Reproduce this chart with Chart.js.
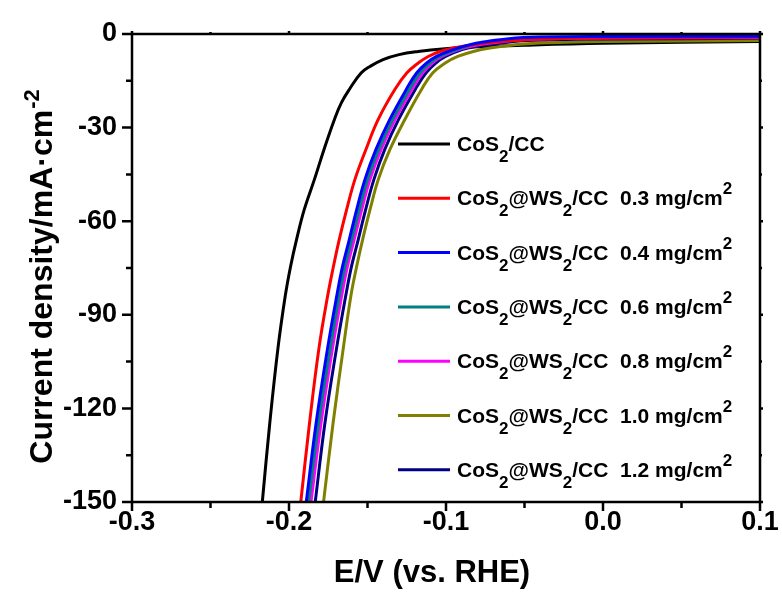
<!DOCTYPE html>
<html>
<head>
<meta charset="utf-8">
<title>LSV curves</title>
<script src="https://cdn.jsdelivr.net/npm/chart.js@4.4.0/dist/chart.umd.min.js"></script>
<style>
  html, body { margin: 0; padding: 0; background: #fff; }
  #wrap { width: 782px; height: 601px; }
</style>
</head>
<body>
<div id="wrap"><canvas id="lsvChart" width="782" height="601"></canvas></div>
<script>
// Potential (V vs. RHE) and current density (mA/cm2)
const potCoS2 = [-0.2170, -0.2123, -0.2071, -0.2024, -0.1990, -0.1952, -0.1903, -0.1838, -0.1777, -0.1710, -0.1666, -0.1615, -0.1541, -0.1484, -0.1401, -0.1299, -0.1178, -0.1006, -0.0847, -0.05, 0.0, 0.1];
const curCoS2 = [-150, -125, -101, -84, -74.5, -65.9, -56.3, -46.6, -37, -27.3, -22, -17.7, -12.5, -10.4, -8.2, -6.6, -5.6, -4.7, -4.2, -3.6, -3.0, -2.4];

const pot03 = [-0.1925, -0.187, -0.181, -0.1754, -0.1717, -0.168, -0.1633, -0.158, -0.151, -0.1431, -0.1325, -0.125, -0.1177, -0.1113, -0.1038, -0.0953, -0.08, -0.06, -0.03, 0.02, 0.1];
const cur03 = [-150, -125, -101, -84, -74.5, -65.9, -56.3, -46.6, -37, -27.3, -17.7, -12.5, -9.3, -7.2, -5.6, -4.5, -3.2, -2.2, -1.5, -1.2, -1.0];

const pot04 = [-0.189, -0.1828, -0.1755, -0.1696, -0.1659, -0.1616, -0.1569, -0.1516, -0.1446, -0.1357, -0.1252, -0.1187, -0.1123, -0.106, -0.0953, -0.0847, -0.075, -0.06, -0.04, 0.0, 0.1];
const cur04 = [-150, -125, -101, -84, -74.5, -65.9, -56.3, -46.6, -37, -27.3, -17.7, -12.5, -9.3, -7.2, -5.0, -3.4, -2.5, -1.5, -1.0, -0.8, -0.7];

const pot06 = [-0.1875, -0.1812, -0.1738, -0.168, -0.1643, -0.160, -0.1552, -0.1499, -0.1428, -0.1338, -0.1232, -0.1166, -0.1102, -0.104, -0.0933, -0.082, -0.072, -0.056, -0.035, 0.0, 0.1];
const cur06 = [-150, -125, -101, -84, -74.5, -65.9, -56.3, -46.6, -37, -27.3, -17.7, -12.5, -9.3, -7.2, -5.0, -3.4, -2.6, -1.7, -1.3, -1.1, -1.0];

const pot08 = [-0.186, -0.1797, -0.1724, -0.1665, -0.1628, -0.1585, -0.1537, -0.1484, -0.1413, -0.1323, -0.1216, -0.115, -0.1087, -0.1025, -0.092, -0.081, -0.07, -0.054, -0.033, 0.0, 0.1];
const cur08 = [-150, -125, -101, -84, -74.5, -65.9, -56.3, -46.6, -37, -27.3, -17.7, -12.5, -9.3, -7.2, -5.0, -3.6, -2.8, -1.9, -1.5, -1.3, -1.2];

const pot10 = [-0.178, -0.172, -0.1655, -0.1606, -0.1569, -0.1531, -0.1484, -0.1431, -0.1357, -0.1261, -0.1155, -0.1085, -0.1005, -0.0925, -0.0826, -0.072, -0.055, -0.035, 0.0, 0.1];
const cur10 = [-150, -125, -101, -84, -74.5, -65.9, -56.3, -46.6, -37, -27.3, -17.7, -12.5, -9.3, -7.2, -5.6, -4.5, -3.4, -2.8, -2.4, -2.1];

const pot12 = [-0.1833, -0.1772, -0.1698, -0.1639, -0.1602, -0.1559, -0.1512, -0.1459, -0.139, -0.1301, -0.1195, -0.1128, -0.1065, -0.1003, -0.0898, -0.08, -0.068, -0.052, -0.03, 0.0, 0.1];
const cur12 = [-150, -125, -101, -84, -74.5, -65.9, -56.3, -46.6, -37, -27.3, -17.7, -12.5, -9.3, -7.2, -5.0, -3.9, -3.1, -2.2, -1.8, -1.6, -1.4];

// legend labels: "_x" = subscript, "^x" = superscript
const seriesLabels = [
  "CoS_2/CC",
  "CoS_2@WS_2/CC  0.3 mg/cm^2",
  "CoS_2@WS_2/CC  0.4 mg/cm^2",
  "CoS_2@WS_2/CC  0.6 mg/cm^2",
  "CoS_2@WS_2/CC  0.8 mg/cm^2",
  "CoS_2@WS_2/CC  1.0 mg/cm^2",
  "CoS_2@WS_2/CC  1.2 mg/cm^2",
];
const seriesColors = ["#000000", "#ff0000", "#0000ff", "#008080", "#ff00ff", "#808000", "#000080"];
// drawing order (lower = on top)
const seriesOrder = [6, 1, 0, 2, 3, 5, 4];

const xMin = -0.3, xMax = 0.1, xStep = 0.1;
const yMin = -150, yMax = 0, yStep = 30;

const FONT = "'Liberation Sans', Arial, Helvetica, sans-serif";

function toPoints(pot, cur) {
  return pot.map((e, i) => ({ x: e, y: cur[i] }));
}

const seriesData = [
  toPoints(potCoS2, curCoS2),
  toPoints(pot03, cur03),
  toPoints(pot04, cur04),
  toPoints(pot06, cur06),
  toPoints(pot08, cur08),
  toPoints(pot10, cur10),
  toPoints(pot12, cur12),
];

// Frame with outward major/minor ticks on all four sides
const framePlugin = {
  id: "frame",
  afterDatasetsDraw(chart) {
    const { ctx, chartArea: a, scales } = chart;
    const xs = scales.x, ys = scales.y;
    ctx.save();
    ctx.strokeStyle = "#000";
    ctx.lineWidth = 2.5;
    ctx.strokeRect(a.left, a.top, a.right - a.left, a.bottom - a.top);

    const xv = xs.ticks.map((t) => t.value);
    const yv = ys.ticks.map((t) => t.value);
    ctx.beginPath();
    xv.forEach((v, i) => {
      const px = xs.getPixelForValue(v);
      ctx.moveTo(px, a.bottom); ctx.lineTo(px, a.bottom + 9);
      ctx.moveTo(px, a.top); ctx.lineTo(px, a.top - 3);
      if (i < xv.length - 1) {
        const pm = xs.getPixelForValue((v + xv[i + 1]) / 2);
        ctx.moveTo(pm, a.bottom); ctx.lineTo(pm, a.bottom + 6);
        ctx.moveTo(pm, a.top); ctx.lineTo(pm, a.top - 2);
      }
    });
    yv.forEach((v, i) => {
      const py = ys.getPixelForValue(v);
      ctx.moveTo(a.left, py); ctx.lineTo(a.left - 10, py);
      ctx.moveTo(a.right, py); ctx.lineTo(a.right + 3, py);
      if (i < yv.length - 1) {
        const pm = ys.getPixelForValue((v + yv[i + 1]) / 2);
        ctx.moveTo(a.left, pm); ctx.lineTo(a.left - 6, pm);
        ctx.moveTo(a.right, pm); ctx.lineTo(a.right + 2, pm);
      }
    });
    ctx.stroke();
    ctx.restore();
  },
};

// draw text with _sub and ^sup markup
function drawRich(ctx, text, x, y, size, subSize, shift) {
  let cx = x;
  let i = 0;
  while (i < text.length) {
    const ch = text[i];
    if ((ch === "_" || ch === "^") && i + 1 < text.length) {
      ctx.font = "bold " + subSize + "px " + FONT;
      const s = text[i + 1];
      ctx.fillText(s, cx, ch === "_" ? y + shift : y - shift);
      cx += ctx.measureText(s).width;
      i += 2;
    } else {
      let j = i;
      while (j < text.length && text[j] !== "_" && text[j] !== "^") j++;
      const run = text.slice(i, j);
      ctx.font = "bold " + size + "px " + FONT;
      ctx.fillText(run, cx, y);
      cx += ctx.measureText(run).width;
      i = j;
    }
  }
  return cx;
}

const legendPlugin = {
  id: "richLegend",
  afterDraw(chart) {
    const { ctx } = chart;
    ctx.save();
    ctx.fillStyle = "#000";
    ctx.textBaseline = "alphabetic";
    ctx.lineWidth = 3;
    chart.data.datasets.forEach((ds, i) => {
      const rowY = 144 + i * 54.3;
      ctx.strokeStyle = ds.borderColor;
      ctx.beginPath();
      ctx.moveTo(398, rowY);
      ctx.lineTo(450, rowY);
      ctx.stroke();
      drawRich(ctx, ds.label, 457, rowY + 7, 21, 17, 11);
    });
    ctx.restore();
  },
};

const titlePlugin = {
  id: "axisTitles",
  afterDraw(chart) {
    const { ctx } = chart;
    ctx.save();
    ctx.fillStyle = "#000";
    ctx.textBaseline = "alphabetic";
    // x title
    ctx.font = "bold 31px " + FONT;
    ctx.textAlign = "center";
    ctx.fillText("E/V (vs. RHE)", 432, 582);
    // y title, rotated, with superscript
    ctx.textAlign = "left";
    ctx.translate(40, 277);
    ctx.rotate(-Math.PI / 2);
    ctx.font = "bold 32px " + FONT;
    const main = "Current density/mA\u00b7cm";
    const wMain = ctx.measureText(main).width;
    ctx.font = "bold 22px " + FONT;
    const wSup = ctx.measureText("-2").width;
    const x0 = -(wMain + wSup) / 2;
    ctx.font = "bold 32px " + FONT;
    ctx.fillText(main, x0, 11.5);
    ctx.font = "bold 22px " + FONT;
    ctx.fillText("-2", x0 + wMain + 1, -1);
    ctx.restore();
  },
};

const ctx = document.getElementById("lsvChart").getContext("2d");
const lsvChart = new Chart(ctx, {
  type: "line",
  data: {
    datasets: seriesData.map((pts, i) => ({
      label: seriesLabels[i],
      data: pts,
      order: seriesOrder[i],
      borderColor: seriesColors[i],
      backgroundColor: seriesColors[i],
      borderWidth: 3,
      pointRadius: 0,
      fill: false,
      tension: 0.4,
    })),
  },
  options: {
    responsive: false,
    animation: false,
    layout: { padding: { top: 34, right: 22, left: 0, bottom: 0 } },
    plugins: {
      legend: { display: false },
      tooltip: { enabled: false },
    },
    scales: {
      x: {
        type: "linear",
        min: xMin,
        max: xMax,
        ticks: {
          stepSize: xStep,
          autoSkip: false,
          maxRotation: 0,
          color: "#000",
          padding: 0,
          font: { family: FONT, size: 27, weight: "bold", lineHeight: 1 },
          callback: (v) => (Math.abs(v) < 1e-9 ? "0.0" : Number(v).toFixed(1)),
        },
        grid: { display: false, tickLength: 7 },
        border: { display: false },
        afterFit: (s) => { s.height = 99; },
      },
      y: {
        min: yMin,
        max: yMax,
        ticks: {
          stepSize: yStep,
          color: "#000",
          padding: 5,
          font: { family: FONT, size: 27, weight: "bold", lineHeight: 1 },
        },
        grid: { display: false, tickLength: 10 },
        border: { display: false },
        afterFit: (s) => { s.width = 132; },
      },
    },
  },
  plugins: [framePlugin, legendPlugin, titlePlugin],
});
</script>
</body>
</html>
